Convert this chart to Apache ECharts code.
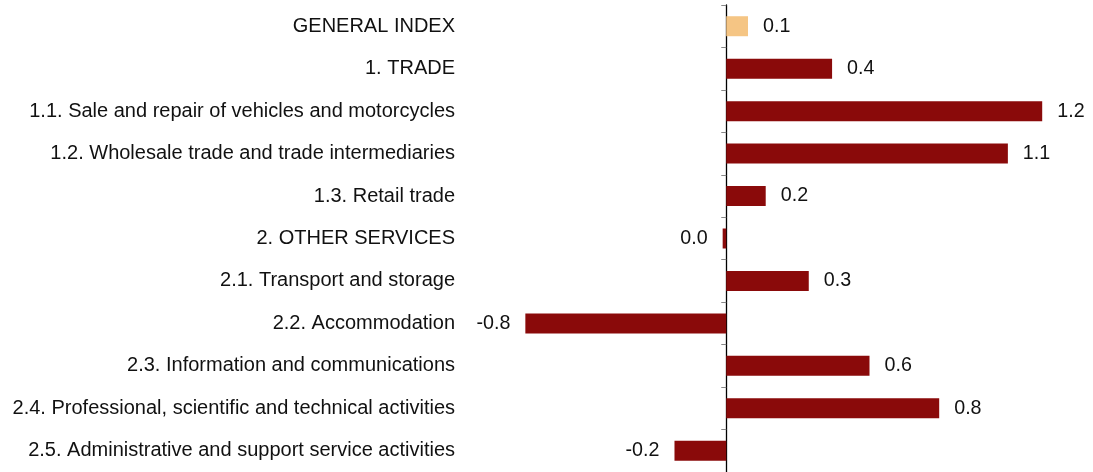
<!DOCTYPE html>
<html>
<head>
<meta charset="utf-8">
<script src="https://cdn.jsdelivr.net/npm/echarts@6/dist/echarts.min.js"></script>
<style>
  html, body { margin: 0; padding: 0; background: #fff; }
  #chart { width: 1093px; height: 472px; }
</style>
</head>
<body>
<div id="chart"></div>
<script>
var categories = [
  'GENERAL INDEX',
  '1. TRADE',
  '1.1. Sale and repair of vehicles and motorcycles',
  '1.2. Wholesale trade and trade intermediaries',
  '1.3. Retail trade',
  '2. OTHER SERVICES',
  '2.1. Transport and storage',
  '2.2. Accommodation',
  '2.3. Information and communications',
  '2.4. Professional, scientific and technical activities',
  '2.5. Administrative and support service activities'
];
var values = [0.085, 0.413, 1.233, 1.099, 0.154, -0.014, 0.322, -0.784, 0.559, 0.831, -0.202];
var highlightIndex = 0;

var dom = document.getElementById('chart');
var myChart = echarts.init(dom, null, { renderer: 'canvas' });

var fontFamily = '"Liberation Sans", Arial, sans-serif';

function fmt(v) {
  var s = v.toFixed(1);
  if (s === '-0.0') s = '0.0';
  return s;
}

var barData = values.map(function (v, i) {
  return {
    value: v,
    itemStyle: { color: i === highlightIndex ? '#F5C584' : '#8A0A0A' },
    label: { position: v < 0 ? 'left' : 'right' }
  };
});

var option = {
  animation: false,
  grid: { left: 470, right: 8, top: 5, height: 471 },
  xAxis: {
    type: 'value',
    min: -1.0,
    max: 1.4,
    show: false
  },
  yAxis: [
    {
      type: 'category',
      inverse: true,
      data: categories,
      axisLine: { show: false, onZero: false },
      axisTick: { show: false },
      axisLabel: {
        margin: 15,
        fontSize: 20,
        color: '#111',
        fontFamily: fontFamily,
        padding: [3, 0, 0, 0]
      }
    },
    {
      type: 'category',
      inverse: true,
      data: categories,
      position: 'left',
      axisLine: { show: true, onZero: true, lineStyle: { color: '#000', width: 1.3 } },
      axisTick: { show: true, length: 5, lineStyle: { color: '#888' } },
      axisLabel: { show: false }
    }
  ],
  series: [
    {
      type: 'bar',
      yAxisIndex: 0,
      barWidth: 20,
      data: barData,
      label: {
        show: true,
        distance: 15,
        fontSize: 19.7,
        color: '#111',
        fontFamily: fontFamily,
        padding: [3, 0, 0, 0],
        formatter: function (p) { return fmt(p.value); }
      }
    }
  ]
};

if (option && typeof option === 'object') {
  myChart.setOption(option);
}
</script>
</body>
</html>
